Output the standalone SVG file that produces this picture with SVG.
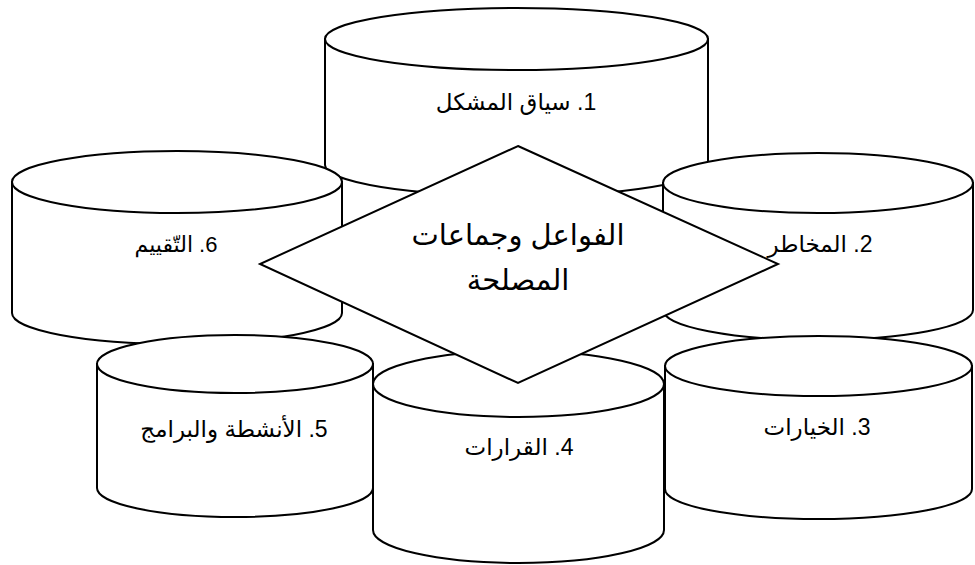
<svg xmlns="http://www.w3.org/2000/svg" width="975" height="565" viewBox="0 0 975 565">
<style>
.s{fill:#fff;stroke:#000;stroke-width:2;stroke-linejoin:miter}
.t{font-family:'Liberation Sans','DejaVu Sans',sans-serif;font-size:23px;fill:#000;text-anchor:middle;direction:rtl}
.d{font-size:29px}
</style>
<rect width="975" height="565" fill="#fff"/>
<g id="node-1">
<path class="s" d="M325,39 L325,165 A191.5,31 0 0 0 708,165 L708,39 Z"/>
<ellipse class="s" cx="516.5" cy="39" rx="191.5" ry="31"/>
<text class="t" x="516" y="110" direction="rtl">1. سياق المشكل</text>
</g>
<g id="node-6">
<path class="s" d="M12,182 L12,313 A165,31 0 0 0 342,313 L342,182 Z"/>
<ellipse class="s" cx="177" cy="182" rx="165" ry="31"/>
<text class="t" x="176" y="252" direction="rtl" style="font-size:22px">6. التّقييم</text>
</g>
<g id="node-2">
<path class="s" d="M663,183 L663,310 A155,30 0 0 0 973,310 L973,183 Z"/>
<ellipse class="s" cx="818" cy="183" rx="155" ry="30"/>
<text class="t" x="820" y="252" direction="rtl">2. المخاطر</text>
</g>
<g id="node-3">
<path class="s" d="M665,366 L665,489 A153.5,30 0 0 0 972,489 L972,366 Z"/>
<ellipse class="s" cx="818.5" cy="366" rx="153.5" ry="30"/>
<text class="t" x="817" y="435" direction="rtl">3. الخيارات</text>
</g>
<g id="node-5">
<path class="s" d="M97,364 L97,488 A138,29 0 0 0 373,488 L373,364 Z"/>
<ellipse class="s" cx="235" cy="364" rx="138" ry="29"/>
<text class="t" x="234" y="437" direction="rtl">5. الأنشطة والبرامج</text>
</g>
<g id="node-4">
<path class="s" d="M373,384 L373,530 A145.5,33 0 0 0 664,530 L664,384 Z"/>
<ellipse class="s" cx="518.5" cy="384" rx="145.5" ry="33"/>
<text class="t" x="519" y="455" direction="rtl">4. القرارات</text>
</g>
<g id="node-center">
<polygon class="s" points="518,146 778,264 518,383 260,264"/>
<text class="t d" x="518" y="245" direction="rtl">الفواعل وجماعات</text>
<text class="t d" x="518" y="290" direction="rtl">المصلحة</text>
</g>
<g id="connectors"/>
</svg>
